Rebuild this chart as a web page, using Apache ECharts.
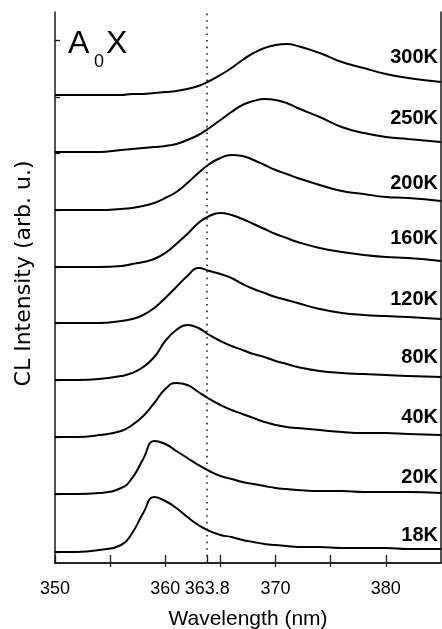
<!DOCTYPE html>
<html>
<head>
<meta charset="utf-8">
<script src="https://cdn.jsdelivr.net/npm/echarts@6/dist/echarts.min.js"></script>
<style>
html,body{margin:0;padding:0;background:#fff;}
#chart{width:442px;height:629px;}
</style>
</head>
<body>
<div id="chart"></div>
<script>
// Wavelength grid (nm)
const wavelengths = [350,352,354,356,357,358,359,360,361,362,363,364,365,366,367,368,369,370,371,372,374,376,378,380,382,385];
// Temperatures (series names)
const temps = ['300K','250K','200K','160K','120K','80K','40K','20K','18K'];
// CL intensity (arb. u., with vertical offsets as in the figure)
const cl300K = [468,468,468,468,469,469,470,471,472,474,477,482,488,495,503,510,515,518,519,517,510,501,495,489,485,481];
const cl250K = [411,411,411,413,414,415,416,417,419,423,428,435,443,451,458,462,464,463,460,455,446,436,430,426,424,421];
const cl200K = [353,353,353,354,355,357,360,365,371,380,390,399,405,408,407,403,398,393,389,385,378,372,369,366,365,362];
const cl160K = [296,296,296,297,299,301,304,310,319,329,340,347,350,348,344,339,334,329,325,321,315,311,308,306,305,302];
const cl120K = [240,240,240,242,244,248,255,265,276,287,295,292,289,285,279,274,270,266,263,260,254,250,248,247,246,244];
const cl80K  = [183,183,184,187,190,196,206,222,233,238,235,228,222,217,213,209,206,202,199,196,192,190,189,188,187,186];
const cl40K  = [126,126,128,132,138,147,160,174,180,178,171,164,158,153,149,145,141,138,136,135,133,131,130,130,129,128];
const cl20K  = [69,69,70,75,85,104,122,119,112,105,98,92,87,84,81,79,77,75,74,73,72,72,71,71,71,70];
const cl18K  = [11,11,13,18,30,50,66,62,55,46,38,32,28,26,23,21,19,18,17,16,16,15,15,15,14,14];
const spectra = [cl300K, cl250K, cl200K, cl160K, cl120K, cl80K, cl40K, cl20K, cl18K];
// Axis ticks
const xTickValues = [350,355,360,363.8,365,370,375,380];
const xLabelValues = [350,360,363.8,370,380];
const xTopTickValues = [355,360,365,370,375,380];
const yTickValues = [11,69,126,183,240,296,353,410,466,523];
const markerWavelength = 363.8;

// layout (pixel positions for temperature labels: cap centre y)
const labelLayoutY = [57,118,183,238,299,357,417,477,535];

const chart = echarts.init(document.getElementById('chart'), null, {renderer:'canvas'});
const axisColor = '#1a1a1a';
const series = temps.map((t, i) => ({
  name: t,
  type: 'line',
  data: wavelengths.map((w, j) => [w, spectra[i][j]]),
  showSymbol: false,
  smooth: 0.5,
  lineStyle: {color: '#000', width: 2},
  silent: true,
  animation: false
}));
series[0].markLine = {
  silent: true,
  symbol: 'none',
  label: {show: false},
  lineStyle: {color: '#222', width: 1.6, type: [1.6, 5]},
  data: [{xAxis: markerWavelength}],
  animation: false
};

const graphics = temps.map((t, i) => ({
  type: 'text',
  x: 438,
  y: labelLayoutY[i],
  style: {
    text: t,
    font: 'bold 20px "Liberation Sans", Arial, sans-serif',
    fill: '#000',
    align: 'right', textAlign: 'right',
    verticalAlign: 'middle', textVerticalAlign: 'middle'
  }
}));
graphics.push(
  {type:'text', x:68, y:44, style:{text:'A', font:'32px "Liberation Sans", Arial, sans-serif', fill:'#000', align:'left', textAlign:'left', verticalAlign:'middle', textVerticalAlign:'middle'}},
  {type:'text', x:94, y:62, style:{text:'0', font:'18px "Liberation Sans", Arial, sans-serif', fill:'#000', align:'left', textAlign:'left', verticalAlign:'middle', textVerticalAlign:'middle'}},
  {type:'text', x:106, y:44, style:{text:'X', font:'32px "Liberation Sans", Arial, sans-serif', fill:'#000', align:'left', textAlign:'left', verticalAlign:'middle', textVerticalAlign:'middle'}}
);

const option = {
  animation: false,
  backgroundColor: '#fff',
  grid: {left: 55, right: 1, top: 12, bottom: 66, containLabel: false, outerBoundsMode: 'none'},
  xAxis: [
    {
      type: 'value', position: 'bottom', min: 350, max: 385,
      name: 'Wavelength (nm)', nameLocation: 'middle', nameGap: 46,
      nameTextStyle: {fontFamily: '"Liberation Sans", Arial, sans-serif', fontSize: 21, color: '#000'},
      axisLine: {show: true, lineStyle: {color: axisColor, width: 1.5}},
      axisTick: {show: true, inside: true, length: 8, customValues: xTickValues, lineStyle: {color: axisColor, width: 1.3}},
      axisLabel: {show: true, customValues: xLabelValues, margin: 17, fontFamily: '"Liberation Sans", Arial, sans-serif', fontSize: 18, color: '#000'},
      splitLine: {show: false}
    },
    {
      type: 'value', position: 'top', min: 350, max: 385,
      axisLine: {show: true, lineStyle: {color: axisColor, width: 1.5}},
      axisTick: {show: true, inside: true, length: 4, customValues: xTopTickValues, lineStyle: {color: axisColor, width: 1.3}},
      axisLabel: {show: false},
      splitLine: {show: false}
    }
  ],
  yAxis: [
    {
      type: 'value', position: 'left', min: 0, max: 551,
      name: 'CL Intensity (arb. u.)', nameLocation: 'middle', nameGap: 20,
      nameTextStyle: {fontFamily: '"DejaVu Sans", sans-serif', fontSize: 22, color: '#000', padding: [0, 0, 0, 28]},
      axisLine: {show: true, lineStyle: {color: axisColor, width: 1.5}},
      axisTick: {show: true, inside: true, length: 5, customValues: yTickValues, lineStyle: {color: axisColor, width: 1.3}},
      axisLabel: {show: false},
      splitLine: {show: false}
    },
    {
      type: 'value', position: 'right', min: 0, max: 551,
      axisLine: {show: true, lineStyle: {color: axisColor, width: 1.5}},
      axisTick: {show: false},
      axisLabel: {show: false},
      splitLine: {show: false}
    }
  ],
  series: series,
  graphic: graphics
};
chart.setOption(option);
</script>
</body>
</html>
